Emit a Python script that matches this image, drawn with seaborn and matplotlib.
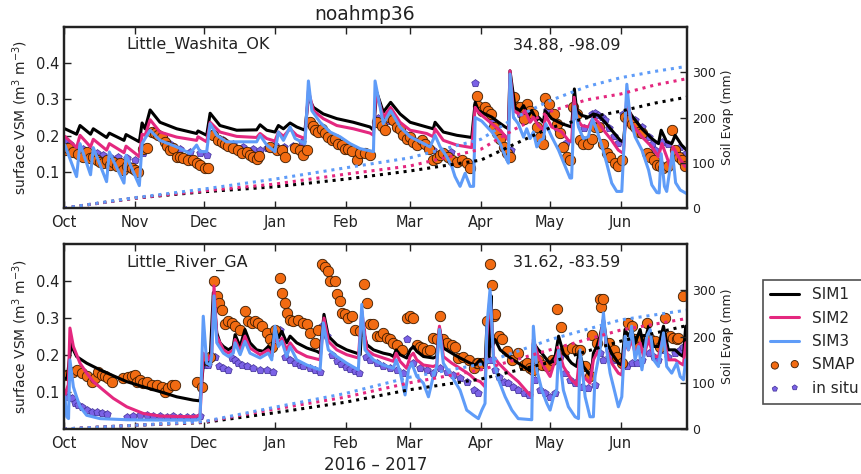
import pandas as pd
import matplotlib
matplotlib.use("Agg")
import matplotlib.pyplot as plt
import matplotlib.dates as mdates
import seaborn as sns

sns.set_style("ticks")
plt.rcParams["font.family"] = ["DejaVu Sans"]

START = pd.Timestamp("2016-10-01")
END = pd.Timestamp("2017-06-30")

c_sim1 = "black"
c_sim2 = "#e4287f"
c_sim3 = "#5f9cf8"
c_smap = "#f26b12"
c_insitu = "#7b62e6"

# every pair is (days since 1 Oct 2016, value)

# ---- Little_Washita_OK ----
ok_sim1 = [(0.4, .219), (5.5, .204), (7.0, .228), (11.6, .204), (12.8, .219), (18.6, .195), (19.8, .207),
           (26.2, .187), (27.1, .203), (32.9, .183), (34.1, .235), (35.4, .219), (37.6, .271), (41.9, .237),
           (49.2, .219), (57.9, .206), (58.5, .213), (62.3, .201), (63.8, .262), (68.1, .228), (75.4, .215),
           (84.1, .216), (85.6, .230), (88.5, .215), (92.1, .210), (93.6, .228), (95.8, .219), (98.7, .235),
           (101.6, .224), (105.2, .215), (106.7, .306), (108.9, .278), (113.2, .260), (119.1, .247), (126.3, .237),
           (133.6, .224), (135.1, .215), (136.5, .320), (139.4, .265), (142.6, .292), (146.7, .260), (151.1, .237),
           (158.3, .224), (161.2, .219), (162.0, .237), (165.6, .210), (171.5, .201), (178.0, .195), (179.5, .292),
           (180.9, .269), (183.8, .260), (186.8, .251), (189.7, .237), (192.6, .224), (194.0, .219), (194.7, .379),
           (196.9, .278), (199.1, .269), (200.6, .283), (202.8, .256), (204.2, .269), (206.4, .242), (207.1, .251),
           (209.3, .237), (210.0, .269), (212.9, .247), (217.3, .233), (221.6, .224), (222.8, .329), (223.8, .269),
           (226.0, .256), (228.9, .251), (231.1, .260), (233.3, .256), (236.2, .237), (239.1, .215), (242.8, .187),
           (244.2, .183), (245.7, .278), (247.8, .256), (252.3, .219), (256.6, .192), (259.5, .178), (260.7, .215),
           (263.1, .183), (265.3, .178), (266.8, .201), (269.6, .174), (271.8, .160)]
ok_sim2 = [(0.4, .198), (5.5, .167), (7.0, .201), (11.6, .169), (12.8, .190), (18.6, .160), (19.8, .178),
           (26.2, .153), (27.1, .171), (32.9, .142), (34.1, .204), (35.4, .201), (37.6, .244), (41.9, .210),
           (49.2, .196), (57.9, .187), (58.5, .197), (62.3, .183), (63.8, .237), (68.1, .210), (75.4, .198),
           (84.1, .195), (85.6, .206), (88.5, .192), (92.1, .185), (93.6, .210), (95.8, .198), (98.7, .219),
           (101.6, .201), (105.2, .192), (106.7, .324), (108.9, .269), (113.2, .247), (119.1, .228), (126.3, .219),
           (133.6, .207), (135.1, .201), (136.2, .324), (139.4, .251), (142.6, .278), (146.7, .237), (151.1, .215),
           (158.3, .206), (161.2, .197), (162.0, .219), (165.6, .187), (171.5, .174), (178.0, .167), (179.5, .278),
           (180.9, .265), (182.4, .256), (186.8, .233), (191.1, .210), (194.0, .187), (194.7, .379), (196.2, .269),
           (199.8, .256), (201.3, .269), (203.5, .237), (204.9, .251), (207.1, .228), (209.3, .215), (210.3, .256),
           (212.9, .224), (217.3, .210), (220.2, .187), (221.6, .183), (222.7, .306), (223.8, .247), (226.0, .228),
           (228.9, .224), (231.1, .251), (233.3, .237), (236.2, .210), (239.1, .187), (242.0, .160), (244.2, .151),
           (245.7, .310), (247.8, .233), (252.3, .197), (256.6, .169), (259.5, .142), (261.0, .178), (263.1, .142),
           (264.5, .115), (265.9, .169), (268.2, .142), (271.1, .115)]
ok_sim3 = [(0.4, .174), (5.5, .087), (7.0, .178), (11.6, .092), (12.8, .167), (18.6, .073), (19.8, .155),
           (26.2, .069), (27.1, .146), (32.9, .062), (34.1, .178), (35.4, .192), (37.6, .215), (41.9, .187),
           (49.2, .169), (55.0, .151), (57.9, .174), (59.4, .156), (62.3, .156), (63.8, .233), (66.7, .201),
           (71.0, .183), (84.1, .183), (85.6, .201), (88.5, .174), (92.1, .156), (93.6, .210), (95.8, .187),
           (98.7, .224), (100.9, .192), (105.2, .178), (106.7, .351), (108.2, .269), (111.8, .237), (116.2, .210),
           (120.5, .197), (124.9, .178), (129.3, .164), (135.1, .156), (135.8, .351), (139.4, .233), (142.6, .269),
           (146.7, .224), (151.1, .197), (155.5, .183), (159.8, .169), (162.0, .201), (164.2, .169), (167.1, .142),
           (169.3, .115), (170.7, .087), (172.9, .060), (175.1, .096), (177.3, .060), (178.8, .060), (179.5, .250),
           (182.4, .240), (186.8, .210), (190.4, .178), (193.3, .133), (194.0, .124), (194.7, .370), (196.2, .251),
           (198.3, .233), (200.6, .196), (202.0, .219), (203.5, .192), (204.9, .210), (206.4, .169), (207.8, .187),
           (209.3, .192), (210.3, .233), (212.9, .197), (215.9, .160), (218.8, .115), (220.9, .083), (221.6, .083),
           (222.7, .288), (224.6, .224), (226.7, .192), (228.9, .197), (230.7, .246), (232.6, .215), (234.7, .174),
           (236.9, .124), (239.1, .069), (241.3, .046), (243.5, .046), (245.7, .342), (247.1, .251), (249.3, .197),
           (252.3, .160), (255.2, .105), (256.6, .064), (258.8, .043), (259.8, .042), (260.7, .150), (262.1, .060),
           (263.1, .046), (265.6, .155), (267.0, .070), (269.0, .050), (271.8, .040)]
ok_smap = [(0.4, .160), (1.9, .167), (4.1, .156), (6.3, .149), (8.4, .142), (9.9, .156), (11.4, .137), (12.8, .142),
           (14.3, .133), (15.7, .128), (17.2, .124), (18.6, .133), (20.1, .119), (21.5, .128), (23.0, .115),
           (24.5, .124), (25.9, .105), (27.4, .115), (29.5, .110), (31.0, .105), (32.5, .101), (34.6, .164),
           (36.4, .167), (38.3, .210), (39.7, .206), (41.2, .201), (42.6, .195), (44.1, .183), (44.8, .171),
           (46.3, .160), (47.7, .167), (49.2, .142), (50.7, .140), (52.1, .137), (54.3, .133), (56.5, .133),
           (57.9, .124), (59.4, .119), (61.6, .110), (63.0, .110), (65.2, .201), (67.4, .187), (68.9, .183),
           (70.3, .178), (71.8, .171), (73.9, .167), (76.1, .160), (77.6, .151), (79.8, .156), (81.2, .146),
           (82.7, .140), (84.1, .135), (85.3, .144), (90.0, .169), (92.9, .160), (95.1, .160), (96.5, .142),
           (100.9, .167), (103.1, .160), (104.5, .146), (106.0, .160), (107.4, .237), (108.6, .228), (109.6, .215),
           (111.0, .210), (112.5, .219), (113.9, .206), (115.4, .197), (116.9, .187), (118.3, .192), (119.8, .178),
           (121.3, .174), (122.7, .164), (124.2, .164), (125.6, .158), (127.8, .133), (129.3, .151), (131.4, .151),
           (133.6, .146), (136.5, .237), (138.7, .228), (140.1, .215), (142.0, .251), (143.8, .242), (145.3, .224),
           (146.7, .219), (148.2, .201), (149.6, .192), (151.1, .197), (152.5, .183), (154.0, .174), (156.2, .187),
           (157.6, .178), (159.5, .164), (161.2, .133), (162.7, .137), (164.2, .146), (165.6, .151), (167.8, .142),
           (169.3, .133), (171.5, .128), (173.7, .133), (175.8, .124), (177.3, .110), (180.2, .310), (180.9, .283),
           (182.4, .269), (183.8, .278), (185.3, .269), (186.5, .260), (187.5, .224), (189.0, .206), (190.4, .192),
           (191.9, .169), (193.3, .151), (194.7, .142), (196.6, .308), (197.7, .278), (199.1, .278), (200.6, .247),
           (202.0, .288), (203.5, .269), (204.9, .260), (206.4, .224), (207.8, .197), (209.3, .178), (210.0, .304),
           (211.7, .288), (213.7, .260), (215.1, .233), (216.6, .206), (218.0, .169), (219.5, .142), (220.9, .133),
           (222.4, .278), (223.8, .260), (225.3, .187), (226.7, .178), (228.9, .178), (230.4, .192), (231.8, .224),
           (233.6, .224), (235.5, .178), (236.9, .151), (238.4, .142), (240.6, .124), (242.0, .115), (243.5, .133),
           (244.9, .251), (246.4, .242), (247.8, .233), (249.3, .224), (250.8, .210), (252.3, .206), (254.4, .151),
           (255.9, .142), (257.4, .133), (258.8, .119), (260.2, .115), (261.7, .110), (263.8, .115), (265.3, .215),
           (266.8, .160), (268.5, .142), (269.6, .133), (271.1, .115)]
ok_insitu = [(0.4, .187), (2.6, .178), (5.5, .167), (8.4, .164), (11.4, .156), (14.3, .151), (17.2, .146),
             (20.1, .142), (23.7, .140), (27.4, .137), (31.0, .133), (34.6, .151), (38.3, .210), (41.9, .197),
             (46.3, .178), (50.7, .164), (55.0, .156), (59.4, .151), (62.3, .146), (65.2, .206), (69.6, .187),
             (73.9, .178), (78.3, .169), (82.7, .164), (85.6, .160), (88.5, .167), (92.0, .175), (96.0, .168),
             (100.0, .172), (104.0, .183), (108.0, .230), (112.0, .210), (116.0, .190), (120.0, .175), (124.0, .165),
             (128.0, .155), (132.0, .150), (137.0, .250), (141.0, .240), (145.0, .220), (149.0, .200), (153.0, .185),
             (157.0, .175), (161.0, .160), (165.0, .150), (169.0, .156), (173.7, .133), (177.0, .125), (179.3, .345),
             (183.0, .270), (187.0, .240), (191.0, .200), (195.0, .160), (199.0, .260), (203.0, .250), (207.0, .220),
             (211.0, .270), (215.0, .220), (219.0, .180), (223.0, .260), (227.0, .220), (230.4, .260), (231.8, .262),
             (233.3, .256), (234.7, .251), (236.2, .242), (238.0, .220), (240.0, .200), (242.0, .180), (244.2, .260),
             (245.7, .256), (247.1, .247), (249.3, .242), (252.3, .224), (255.2, .197), (256.6, .178), (258.1, .160),
             (261.0, .183), (263.8, .178), (266.8, .160), (269.0, .170), (271.0, .150)]
# cumulative soil evaporation (mm)
ok_evap_day = [0, 31, 61, 92, 123, 151, 182, 197, 212, 228, 243, 258, 273]
ok_evap1 = [0, 22, 36, 47, 64, 82, 106, 142, 177, 199, 214, 232, 246]
ok_evap2 = [0, 22, 38, 53, 75, 93, 130, 175, 213, 239, 252, 272, 287]
ok_evap3 = [0, 23, 42, 64, 89, 111, 152, 200, 237, 268, 288, 302, 314]

# ---- Little_River_GA ----
ga_sim1 = [(0.4, .137), (1.4, .137), (3.3, .237), (4.1, .214), (5.5, .196), (9.9, .178), (15.7, .160), (21.5, .144),
           (27.4, .128), (34.6, .114), (41.9, .101), (49.2, .087), (56.5, .078), (59.4, .076), (60.1, .124),
           (60.8, .173), (62.3, .183), (63.0, .173), (63.8, .187), (65.2, .369), (66.7, .260), (68.1, .233),
           (69.6, .223), (71.8, .214), (73.9, .223), (74.7, .255), (76.9, .223), (79.0, .269), (81.2, .233),
           (84.1, .214), (87.0, .210), (89.2, .223), (90.7, .214), (92.1, .273), (93.6, .246), (95.1, .264),
           (97.2, .233), (98.7, .251), (101.6, .233), (106.0, .219), (110.4, .210), (111.8, .205), (113.5, .310),
           (115.4, .251), (119.1, .228), (123.4, .214), (127.8, .205), (129.3, .201), (130.0, .282), (132.2, .228),
           (135.1, .214), (139.4, .205), (142.4, .201), (143.8, .196), (145.0, .214), (146.7, .201), (149.6, .192),
           (151.1, .214), (152.5, .223), (154.0, .210), (156.9, .196), (161.2, .192), (162.7, .196), (163.9, .273),
           (165.6, .219), (169.3, .205), (172.9, .192), (177.3, .178), (179.5, .173), (181.7, .187), (183.8, .169),
           (184.6, .278), (185.6, .196), (186.5, .360), (187.0, .223), (188.2, .242), (190.4, .214), (194.0, .196),
           (198.3, .178), (202.8, .160), (204.2, .155), (204.9, .233), (207.1, .214), (208.6, .205), (210.8, .187),
           (212.2, .178), (214.4, .196), (215.9, .251), (218.0, .205), (221.6, .178), (223.8, .169), (224.9, .210),
           (226.7, .169), (228.9, .151), (230.1, .142), (231.1, .205), (232.6, .223), (234.0, .251), (235.5, .296),
           (236.9, .233), (239.1, .205), (242.0, .178), (243.5, .173), (244.9, .269), (246.4, .251), (247.8, .269),
           (249.3, .233), (251.5, .269), (253.0, .223), (255.2, .278), (257.4, .223), (259.5, .223), (261.7, .278),
           (263.8, .214), (266.8, .214), (269.0, .201), (270.4, .196), (271.4, .278)]
ga_sim2 = [(0.4, .092), (1.9, .120), (2.6, .273), (4.1, .223), (7.0, .178), (9.9, .151), (12.8, .128), (17.2, .105),
           (21.5, .083), (27.4, .060), (34.6, .042), (41.9, .035), (56.5, .033), (59.4, .037), (60.1, .124),
           (60.8, .205), (63.0, .187), (64.5, .205), (65.5, .387), (66.7, .251), (69.6, .214), (71.8, .205),
           (73.9, .214), (74.7, .242), (76.9, .210), (79.0, .251), (81.2, .219), (85.6, .201), (89.2, .214),
           (90.7, .196), (92.1, .255), (93.6, .228), (95.1, .246), (97.2, .214), (98.7, .233), (101.6, .210),
           (106.0, .196), (111.8, .187), (113.5, .300), (115.4, .237), (119.1, .214), (123.4, .201), (128.5, .192),
           (130.0, .319), (132.2, .214), (135.1, .201), (139.4, .192), (143.8, .183), (145.0, .205), (146.7, .183),
           (149.6, .164), (151.1, .196), (152.5, .205), (154.0, .187), (156.9, .173), (161.2, .169), (162.7, .173),
           (163.9, .278), (165.6, .196), (169.3, .178), (172.9, .164), (177.3, .146), (179.5, .133), (181.7, .128),
           (183.8, .114), (184.6, .251), (186.0, .360), (187.5, .196), (189.7, .178), (194.0, .151), (198.3, .128),
           (202.8, .096), (204.2, .087), (204.9, .242), (207.1, .196), (210.0, .164), (212.2, .142), (214.4, .187),
           (215.9, .214), (218.0, .169), (221.6, .133), (223.8, .119), (224.9, .187), (226.7, .142), (229.6, .124),
           (231.1, .187), (233.3, .214), (235.5, .296), (236.9, .214), (239.1, .178), (242.0, .151), (243.5, .146),
           (244.9, .233), (246.4, .214), (247.8, .242), (249.3, .205), (251.5, .233), (253.0, .196), (255.2, .242),
           (257.4, .196), (259.5, .196), (261.7, .251), (263.8, .187), (266.8, .187), (269.0, .178), (270.4, .173),
           (271.4, .233)]
ga_sim3 = [(0.4, .087), (1.2, .033), (2.0, .028), (2.6, .187), (4.1, .114), (5.5, .087), (7.0, .060), (9.9, .037),
           (15.7, .028), (27.4, .025), (41.9, .024), (57.9, .024), (59.4, .028), (60.8, .305), (62.3, .178),
           (63.8, .173), (64.5, .196), (65.5, .360), (66.7, .233), (69.6, .205), (71.8, .196), (73.9, .205),
           (74.7, .233), (76.9, .201), (79.0, .237), (81.2, .205), (85.6, .192), (89.2, .205), (90.7, .187),
           (92.1, .278), (93.6, .223), (95.1, .237), (97.2, .196), (98.7, .223), (101.6, .187), (106.0, .173),
           (111.8, .160), (113.2, .287), (115.4, .214), (119.1, .196), (123.4, .178), (128.5, .160), (130.0, .337),
           (131.4, .214), (135.1, .187), (139.4, .173), (143.8, .164), (145.0, .187), (146.7, .155), (148.9, .092),
           (150.4, .160), (151.8, .178), (154.0, .142), (156.9, .124), (159.1, .087), (161.2, .142), (162.7, .169),
           (163.9, .269), (165.6, .178), (169.3, .142), (172.9, .105), (175.8, .051), (178.8, .037), (180.9, .028),
           (182.4, .051), (183.8, .069), (184.6, .278), (186.0, .378), (187.5, .187), (189.7, .133), (192.6, .087),
           (195.5, .051), (198.3, .028), (204.2, .025), (204.9, .278), (206.4, .160), (208.6, .105), (210.8, .069),
           (212.2, .051), (213.7, .087), (215.1, .105), (215.9, .214), (218.0, .105), (220.2, .060), (223.1, .033),
           (224.6, .028), (225.3, .214), (227.5, .087), (229.6, .033), (231.1, .033), (231.8, .142), (234.0, .214),
           (235.5, .314), (236.9, .214), (238.4, .151), (240.6, .096), (242.0, .060), (243.5, .087), (244.9, .251),
           (246.4, .214), (247.8, .278), (249.3, .187), (250.8, .223), (252.3, .160), (254.4, .251), (255.9, .269),
           (257.4, .187), (259.5, .169), (261.7, .260), (263.1, .169), (265.3, .151), (267.5, .178), (269.0, .142),
           (270.4, .133), (271.4, .187)]
ga_smap = [(0.4, .146), (1.9, .146), (4.1, .155), (5.5, .160), (7.7, .151), (9.9, .142), (12.1, .128), (13.5, .137),
           (15.0, .155), (16.4, .146), (17.9, .142), (19.4, .137), (20.8, .128), (25.9, .137), (28.1, .140),
           (29.5, .144), (31.0, .146), (31.7, .128), (33.2, .133), (34.6, .124), (36.4, .128), (38.3, .119),
           (40.5, .119), (42.6, .114), (44.1, .101), (45.6, .110), (47.0, .119), (48.5, .119), (57.9, .128),
           (60.1, .114), (62.3, .187), (63.8, .196), (65.5, .401), (66.7, .360), (67.8, .342), (68.9, .323),
           (70.3, .283), (71.8, .292), (73.2, .287), (74.7, .278), (76.9, .269), (79.0, .319), (80.5, .292),
           (82.0, .287), (83.4, .292), (84.9, .287), (86.3, .278), (88.5, .260), (90.0, .242), (90.7, .223),
           (92.1, .269), (94.3, .407), (95.1, .369), (96.5, .342), (97.2, .314), (98.7, .296), (100.1, .292),
           (102.3, .296), (104.5, .287), (106.0, .283), (107.4, .260), (109.6, .233), (111.0, .269), (112.5, .446),
           (113.9, .437), (115.4, .428), (116.2, .401), (118.3, .401), (119.1, .364), (120.5, .346), (121.3, .314),
           (122.7, .310), (124.2, .301), (125.6, .305), (127.1, .269), (129.3, .264), (131.0, .391), (132.2, .342),
           (133.6, .283), (135.1, .283), (136.5, .251), (138.0, .251), (139.4, .260), (140.9, .246), (142.4, .242),
           (143.8, .233), (145.3, .228), (147.5, .214), (149.9, .301), (151.1, .305), (152.5, .301), (154.0, .228),
           (155.5, .223), (156.9, .219), (158.3, .210), (159.8, .214), (161.2, .246), (162.7, .242), (164.2, .305),
           (165.6, .242), (167.1, .233), (169.3, .228), (170.7, .223), (172.2, .192), (174.4, .196), (176.6, .187),
           (178.8, .164), (180.2, .178), (180.9, .178), (182.4, .178), (184.6, .292), (186.0, .446), (186.8, .389),
           (187.5, .305), (188.2, .310), (189.7, .251), (191.1, .242), (193.3, .210), (195.5, .187), (198.3, .205),
           (200.6, .173), (202.0, .178), (203.5, .164), (204.9, .160), (207.1, .187), (208.6, .173), (210.8, .169),
           (212.9, .187), (215.1, .325), (216.9, .276), (218.8, .214), (221.6, .219), (223.8, .214), (225.3, .214),
           (227.5, .169), (229.6, .142), (230.4, .253), (232.6, .233), (234.0, .351), (234.5, .331), (235.5, .351),
           (237.7, .233), (239.9, .214), (241.3, .196), (243.5, .178), (246.4, .287), (247.8, .278), (249.3, .242),
           (250.8, .223), (252.3, .242), (254.4, .287), (255.9, .242), (258.1, .237), (260.2, .223), (262.4, .301),
           (264.5, .251), (265.9, .246), (267.5, .242), (268.2, .246), (270.4, .360)]
ga_insitu = [(0.4, .096), (1.9, .087), (3.3, .083), (4.8, .069), (6.3, .065), (7.7, .060), (9.9, .051), (12.1, .046),
             (14.3, .046), (16.4, .044), (18.6, .040), (27.4, .033), (30.3, .036), (33.2, .037), (36.1, .037),
             (39.0, .036), (41.9, .035), (44.8, .033), (47.7, .035), (50.7, .033), (53.6, .033), (56.5, .033),
             (59.4, .035), (61.6, .173), (63.0, .173), (63.8, .196), (66.0, .196), (67.8, .169), (69.6, .164),
             (71.8, .160), (73.2, .192), (74.7, .187), (76.1, .178), (77.6, .173), (79.8, .169), (82.7, .164),
             (85.6, .160), (88.5, .160), (91.4, .155), (94.3, .269), (96.5, .196), (98.7, .187), (100.9, .178),
             (103.1, .173), (104.5, .169), (107.4, .164), (109.6, .160), (111.8, .155), (112.8, .278), (114.7, .251),
             (117.0, .200), (119.0, .185), (121.0, .175), (123.0, .168), (125.0, .162), (127.0, .158), (129.0, .152),
             (131.8, .196), (133.6, .187), (136.5, .178), (139.4, .169), (142.4, .164), (145.3, .160), (148.2, .151),
             (149.9, .242), (152.5, .178), (155.5, .164), (158.3, .160), (161.2, .151), (164.2, .164), (167.1, .155),
             (170.0, .146), (172.9, .137), (175.8, .128), (178.8, .105), (180.9, .096), (186.0, .187), (188.0, .160),
             (190.0, .140), (191.9, .128), (194.0, .124), (196.2, .114), (198.3, .105), (200.6, .096), (202.8, .092),
             (205.7, .133), (207.8, .105), (210.0, .096), (212.2, .087), (214.4, .096), (216.6, .196), (218.8, .151),
             (220.9, .133), (223.1, .124), (226.0, .114), (228.9, .110), (231.8, .119), (234.0, .205), (235.5, .187),
             (237.7, .196), (240.6, .187), (243.5, .178), (245.7, .169), (247.8, .178), (250.0, .178), (252.3, .187),
             (255.2, .205), (257.4, .196), (259.5, .187), (261.7, .214), (263.8, .196), (266.8, .205), (269.0, .214),
             (270.4, .223)]
ga_evap_day = [0, 31, 61, 92, 123, 151, 182, 212, 243, 273]
ga_evap1 = [0, 8, 14, 35, 58, 85, 108, 144, 190, 225]
ga_evap2 = [0, 8, 15, 43, 69, 100, 128, 171, 214, 240]
ga_evap3 = [0, 8, 16, 47, 77, 112, 140, 193, 236, 258]

sim_names = ["SIM1", "SIM2", "SIM3"]
sim_colors = [c_sim1, c_sim2, c_sim3]


def to_dates(days):
    return START + pd.to_timedelta(list(days), unit="D")


def split(pairs):
    days, vals = zip(*pairs)
    return to_dates(days), list(vals)


def draw_panel(ax, sims, smap, insitu, evap_day, evaps, site, coords):
    x, y = split(insitu)
    sns.scatterplot(x=x, y=y, ax=ax, marker="p", s=32, color=c_insitu,
                    edgecolor="#3d2d94", linewidth=0.5, zorder=2, label="in situ")
    x, y = split(smap)
    sns.scatterplot(x=x, y=y, ax=ax, marker="o", s=56, color=c_smap,
                    edgecolor="#3a1a00", linewidth=0.6, zorder=2, label="SMAP")
    for pairs, name, col in zip(sims, sim_names, sim_colors):
        x, y = split(pairs)
        sns.lineplot(x=x, y=y, ax=ax, color=col, lw=2.2, label=name,
                     estimator=None, sort=False, zorder=3)

    ax2 = ax.twinx()
    for vals, col in zip(evaps, sim_colors):
        sns.lineplot(x=to_dates(evap_day), y=vals, ax=ax2, color=col, lw=2.2,
                     ls=(0, (1, 1.6)), estimator=None, sort=False)

    for a in (ax, ax2):
        if a.get_legend() is not None:
            a.get_legend().remove()
        for s in a.spines.values():
            s.set_linewidth(1.6)
            s.set_color("#222222")

    ax.set_xlim(START, END)
    ax.set_ylim(0, 0.5)
    ax.set_yticks([0.1, 0.2, 0.3, 0.4])
    ax.xaxis.set_major_locator(mdates.MonthLocator())
    ax.xaxis.set_major_formatter(mdates.DateFormatter("%b"))
    ax.tick_params(axis="both", direction="in", length=5, width=1, labelsize=10.5,
                   top=True, colors="#222222")
    ax.tick_params(axis="x", pad=5)
    ax.set_xlabel("")
    ax.set_ylabel("surface VSM (m$^3$ m$^{-3}$)", fontsize=10, labelpad=4, color="#222222")

    ax2.set_ylim(0, 400)
    ax2.set_yticks([0, 100, 200, 300])
    ax2.tick_params(axis="y", direction="in", length=5, width=1, labelsize=9, colors="#222222")
    ax2.set_ylabel("Soil Evap (mm)", fontsize=9, labelpad=4, color="#222222")

    ax.text(0.1, 0.9, site, transform=ax.transAxes, fontsize=11.5, va="center", color="#222222")
    ax.text(0.72, 0.9, coords, transform=ax.transAxes, fontsize=11.5, va="center", color="#222222")
    return ax2


fig = plt.figure(figsize=(8.61, 4.74), dpi=100)
ax_top = fig.add_axes([0.0743, 0.561, 0.7237, 0.382])
ax_bot = fig.add_axes([0.0743, 0.095, 0.7237, 0.390])

draw_panel(ax_top, [ok_sim1, ok_sim2, ok_sim3], ok_smap, ok_insitu,
           ok_evap_day, [ok_evap1, ok_evap2, ok_evap3], "Little_Washita_OK", "34.88, -98.09")
draw_panel(ax_bot, [ga_sim1, ga_sim2, ga_sim3], ga_smap, ga_insitu,
           ga_evap_day, [ga_evap1, ga_evap2, ga_evap3], "Little_River_GA", "31.62, -83.59")

ax_top.set_title("noahmp36", fontsize=13.5, x=0.483, pad=5, color="#222222")
ax_bot.set_xlabel("2016 \u2013 2017", fontsize=12, labelpad=4, color="#222222")

handles, labels = ax_top.get_legend_handles_labels()
order = ["SIM1", "SIM2", "SIM3", "SMAP", "in situ"]
hmap = dict(zip(labels, handles))
leg = fig.legend([hmap[k] for k in order], order, loc="upper left",
                 bbox_to_anchor=(755 / 861, 1 - 272 / 474), fontsize=11, frameon=True,
                 fancybox=False, edgecolor="#222222", scatterpoints=2, markerscale=0.7,
                 handlelength=1.9, labelspacing=0.55, borderpad=0.5, handletextpad=0.8)
leg.get_frame().set_linewidth(1.2)

fig.savefig("out.png", dpi=100)
